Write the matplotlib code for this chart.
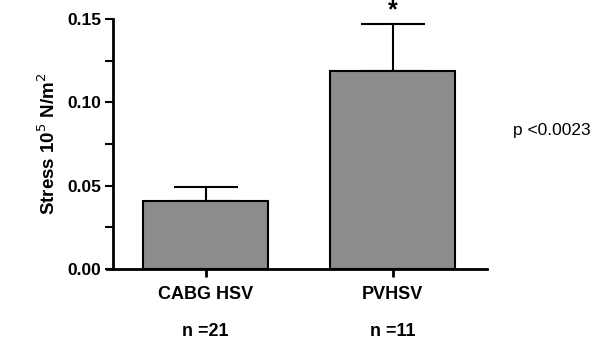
import numpy as np
import matplotlib
matplotlib.use('Agg')
import matplotlib.pyplot as plt

plt.rcParams['font.family'] = ['Liberation Sans', 'DejaVu Sans']

# group data (stress, 10^5 N/m^2)
groups = ['CABG HSV', 'PVHSV']
counts = ['n =21', 'n =11']
means = [0.0408, 0.1186]
sems = [0.0084, 0.0282]
stars = ['', '*']

xpos = np.arange(len(groups))

fig = plt.figure(figsize=(6.06, 3.46), dpi=100)
ax = fig.add_axes([106.5/606, 77/346, (487-106.5)/606, 250/346])

ax.bar(xpos, means, width=0.668, color='#8c8c8c', edgecolor='black', linewidth=1.5, zorder=2)
ax.errorbar(xpos, means, yerr=[np.zeros(len(sems)), sems], fmt='none',
            ecolor='black', elinewidth=1.5, capsize=23, capthick=1.5, zorder=1)

for x, m, s, st in zip(xpos, means, sems, stars):
    if st:
        ax.text(x, m + s + 0.001, st, ha='center', va='bottom', fontsize=18,
                fontweight='bold', clip_on=False)

ax.set_xlim(-0.53, 1.505)
ax.set_ylim(0, 0.15)
ax.spines['left'].set_position(('data', -0.497))
ax.spines['left'].set_bounds(0, 0.15)
ax.spines['left'].set_linewidth(2)
ax.spines['bottom'].set_linewidth(2)
ax.spines['top'].set_visible(False)
ax.spines['right'].set_visible(False)

ax.set_yticks([0, 0.05, 0.10, 0.15])
ax.set_yticklabels(['0.00', '0.05', '0.10', '0.15'], fontweight='bold', fontsize=12.5)
ax.set_yticks([0.025, 0.075, 0.125], minor=True)
ax.tick_params(axis='y', which='both', width=1.5, length=6, direction='out', pad=2)
ax.set_xticks(xpos)
ax.set_xticklabels(groups, fontweight='bold', fontsize=13)
ax.tick_params(axis='x', width=2, length=6, direction='out', pad=6)

for x, c in zip(xpos, counts):
    ax.text(x, -0.248, c, transform=ax.get_xaxis_transform(), ha='center', va='center',
            fontsize=13, fontweight='bold')

ax.set_ylabel('Stress 10$^5$ N/m$^2$', fontweight='bold', fontsize=13.5, labelpad=6)

fig.text(513/606, 1 - 130/346, 'p <0.0023', ha='left', va='center', fontsize=12.5)

fig.savefig('out.png', dpi=100)
